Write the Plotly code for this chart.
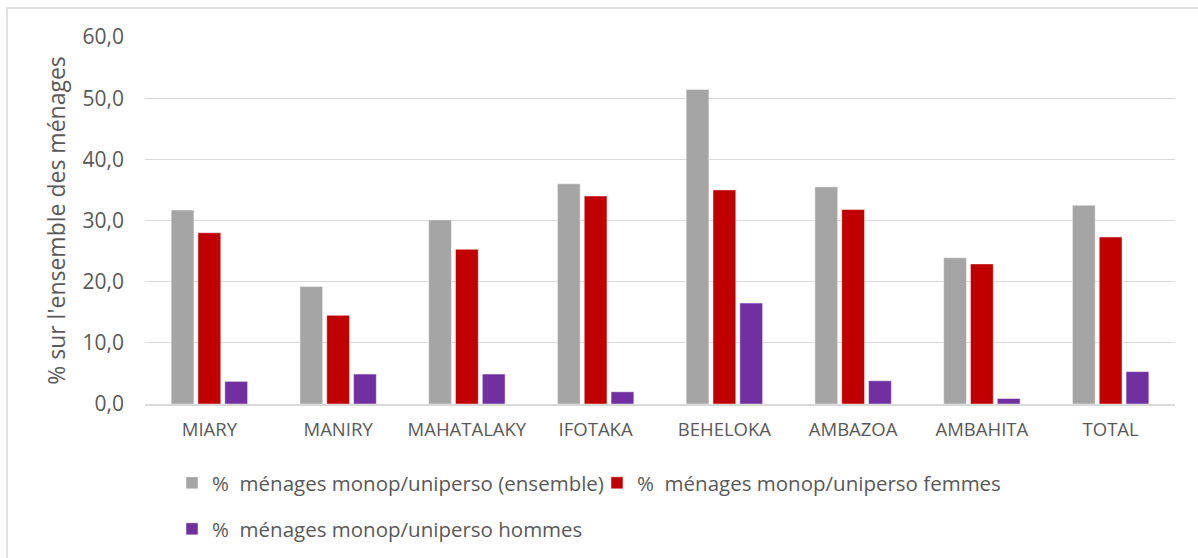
import plotly.graph_objects as go

communes = ["MIARY", "MANIRY", "MAHATALAKY", "IFOTAKA", "BEHELOKA", "AMBAZOA", "AMBAHITA", "TOTAL"]
ensemble = [31.7, 19.2, 30.1, 36.0, 51.4, 35.5, 23.9, 32.5]
femmes = [28.0, 14.5, 25.3, 34.0, 35.0, 31.8, 22.9, 27.3]
hommes = [3.7, 4.9, 4.9, 2.0, 16.5, 3.8, 0.9, 5.3]

series_names = [
    "%  ménages monop/uniperso (ensemble)",
    "%  ménages monop/uniperso femmes",
    "%  ménages monop/uniperso hommes",
]
series_colors = ["#A5A5A5", "#C00000", "#7030A0"]

FONT = "Open Sans"
TEXT_COLOR = "#595959"

fig = go.Figure()
for name, vals, color, leg in zip(series_names, [ensemble, femmes, hommes], series_colors,
                                  ["legend", "legend", "legend2"]):
    fig.add_trace(go.Bar(
        x=communes, y=vals, name=name,
        marker=dict(color=color, line=dict(color="rgba(255,255,255,0.6)", width=0.8)),
        legend=leg,
    ))

W, H = 1198, 558
ml, mr, mt, mb = 145, 23, 37, 154
pw, ph = W - ml - mr, H - mt - mb

def px_x(x):
    return (x - ml) / pw

def px_y(y):
    return (H - mb - y) / ph

legend_font = dict(size=20.5, family=FONT, color=TEXT_COLOR)

fig.update_layout(
    width=W, height=H,
    margin=dict(l=ml, r=mr, t=mt, b=mb, autoexpand=False),
    paper_bgcolor="white", plot_bgcolor="white",
    font=dict(family=FONT, color=TEXT_COLOR, size=18),
    barmode="group", bargap=0.375, bargroupgap=0.15,
    separators=",.",
    showlegend=True,
    legend=dict(orientation="h", x=px_x(172), y=px_y(483), yanchor="middle", xanchor="left",
                font=legend_font, itemwidth=30, traceorder="normal", entrywidth=380,
                bgcolor="rgba(0,0,0,0)"),
    legend2=dict(orientation="h", x=px_x(172), y=px_y(529), yanchor="middle", xanchor="left",
                 font=legend_font, itemwidth=30, bgcolor="rgba(0,0,0,0)"),
    xaxis=dict(showgrid=False, showline=True, linecolor="#D9D9D9", linewidth=1.5,
               ticks="", tickfont=dict(size=18.5, family=FONT, color=TEXT_COLOR),
               ticklabelstandoff=8),
    yaxis=dict(range=[0, 60], dtick=10, tickformat=".1f", showgrid=True,
               gridcolor="#D9D9D9", gridwidth=1.2, zeroline=False, showline=False,
               ticks="", ticklabelstandoff=20,
               tickfont=dict(size=21, family=FONT, color=TEXT_COLOR),
               title=dict(text="% sur l'ensemble des ménages", standoff=10,
                          font=dict(size=23, family=FONT, color=TEXT_COLOR))),
    shapes=[dict(type="rect", xref="paper", yref="paper",
                 x0=px_x(7), x1=px_x(1210), y0=px_y(570), y1=px_y(8),
                 line=dict(color="#D9D9D9", width=1.5), layer="below")],
)

fig.write_html("out.html")
